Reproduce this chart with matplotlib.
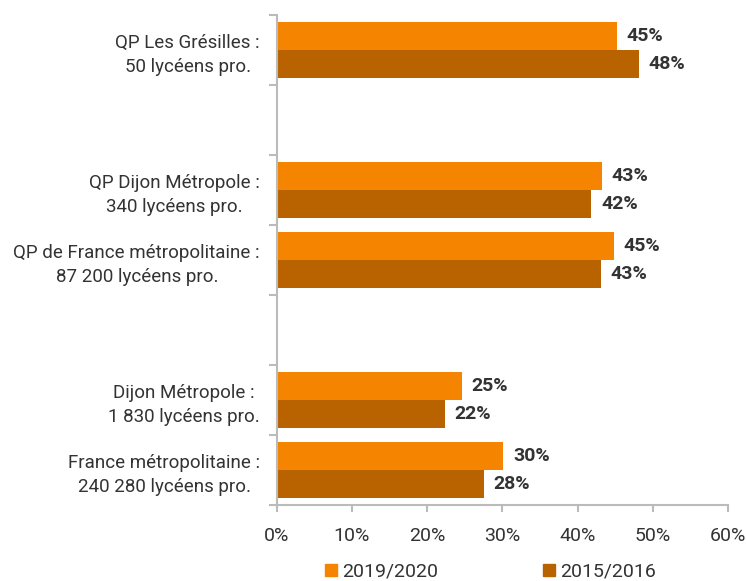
import numpy as np
import matplotlib.pyplot as plt
from matplotlib.patches import Patch

plt.rcParams['font.family'] = ['Roboto', 'DejaVu Sans']

categories = ["QP Les Grésilles :\n50 lycéens pro.",
              "QP Dijon Métropole :\n340 lycéens pro.",
              "QP de France métropolitaine :\n87 200 lycéens pro.",
              "Dijon Métropole :\n1 830 lycéens pro.",
              "France métropolitaine :\n240 280 lycéens pro."]
slots = [0, 2, 3, 5, 6]  # empty slots separate the groups
vals_2019 = [45.2, 43.2, 44.8, 24.6, 30.1]
vals_2015 = [48.1, 41.8, 43.1, 22.3, 27.5]
series = ["2019/2020", "2015/2016"]
colors = ["#F58400", "#B86200"]

fig = plt.figure(figsize=(7.46, 5.81), dpi=100)
ax = fig.add_axes([0.371, 0.131, 0.605, 0.843])

y = np.array(slots, dtype=float)
h = 0.4
ax.barh(y - h / 2, vals_2019, height=h, color=colors[0])
ax.barh(y + h / 2, vals_2015, height=h, color=colors[1])

for yy, v in zip(y - h / 2, vals_2019):
    ax.text(v + 1.3, yy, f"{round(v)}%", va='center', ha='left',
            fontsize=14, fontweight='bold', color='#333333')
for yy, v in zip(y + h / 2, vals_2015):
    ax.text(v + 1.3, yy, f"{round(v)}%", va='center', ha='left',
            fontsize=14, fontweight='bold', color='#333333')

ax.set_xlim(0, 60)
ax.set_ylim(6.5, -0.5)
ax.set_xticks(np.arange(0, 61, 10))
ax.set_xticklabels([f"{t}%" for t in range(0, 61, 10)], fontsize=14, color='#333333')
ax.set_yticks(np.arange(-0.5, 7, 1))
ax.set_yticklabels([])
ax.set_yticks(slots, minor=True)
ax.set_yticklabels(categories, minor=True, fontsize=13.5, color='#333333',
                   multialignment='center', linespacing=1.45)
ax.tick_params(axis='y', which='minor', length=0, pad=12)
ax.tick_params(axis='y', which='major', length=6, color='#BBBBBB', width=1.5)
ax.tick_params(axis='x', length=5, color='#BBBBBB', width=1.5, pad=11)

for s in ['top', 'right']:
    ax.spines[s].set_visible(False)
for s in ['left', 'bottom']:
    ax.spines[s].set_color('#BBBBBB')
    ax.spines[s].set_linewidth(1.5)

handles = [Patch(color=c, label=s) for c, s in zip(colors, series)]
fig.legend(handles=handles, loc='lower left', bbox_to_anchor=(325 / 746, 0.0), ncol=2,
           frameon=False, fontsize=14, handlelength=0.62, handleheight=0.62,
           handletextpad=0.25, columnspacing=5.4, labelcolor='#333333',
           borderpad=0, borderaxespad=0)

fig.savefig("out.png", dpi=100)
